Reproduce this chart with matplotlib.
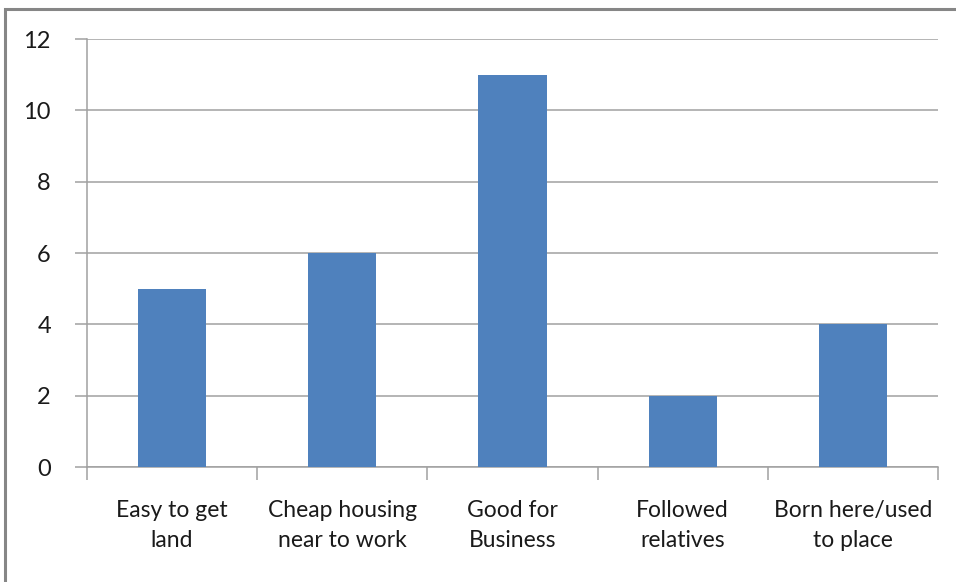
import matplotlib.pyplot as plt
from matplotlib.patches import Rectangle
import numpy as np

# data
categories = ["Easy to get\nland", "Cheap housing\nnear to work", "Good for\nBusiness",
              "Followed\nrelatives", "Born here/used\nto place"]
values = [5, 6, 11, 2, 4]
yticks = [0, 2, 4, 6, 8, 10, 12]

W, H = 956, 582
fig = plt.figure(figsize=(W / 100, H / 100), dpi=100)
plt.rcParams['font.family'] = ['Lato', 'DejaVu Sans']

# outer chart border (cropped at right/bottom in the original)
fig.patches.append(Rectangle((5 / W, -0.1), 1.2, 1 - 9 / H + 0.1, transform=fig.transFigure,
                             fill=False, edgecolor="#868686", lw=2.2))

left, right, top, bottom = 87, 938, 39, 467
ax = fig.add_axes([left / W, 1 - bottom / H, (right - left) / W, (bottom - top) / H])

x = np.arange(len(categories))
ax.bar(x, values, width=0.4, color="#4F81BD", zorder=3)
ax.set_xlim(-0.5, len(categories) - 0.5)
ax.set_ylim(0, 12)
ax.set_yticks(yticks)
ax.set_yticklabels([str(t) for t in yticks], fontsize=17, color="#1a1a1a")
ax.yaxis.grid(True, color="#a0a0a0", lw=1.1, zorder=0)

ax.set_xticks(x)
ax.set_xticklabels(categories, fontsize=16.5, color="#1a1a1a", linespacing=1.5)
ax.set_xticks(np.arange(len(categories) + 1) - 0.5, minor=True)
ax.tick_params(axis="x", which="major", length=0, pad=24)
ax.tick_params(axis="x", which="minor", length=9, color="#a0a0a0", width=1.1)
ax.tick_params(axis="y", length=9, color="#a0a0a0", width=1.1, pad=17)

for s in ["top", "right"]:
    ax.spines[s].set_visible(False)
for s in ["left", "bottom"]:
    ax.spines[s].set_color("#a0a0a0")
    ax.spines[s].set_linewidth(1.1)

fig.savefig("out.png", dpi=100)
